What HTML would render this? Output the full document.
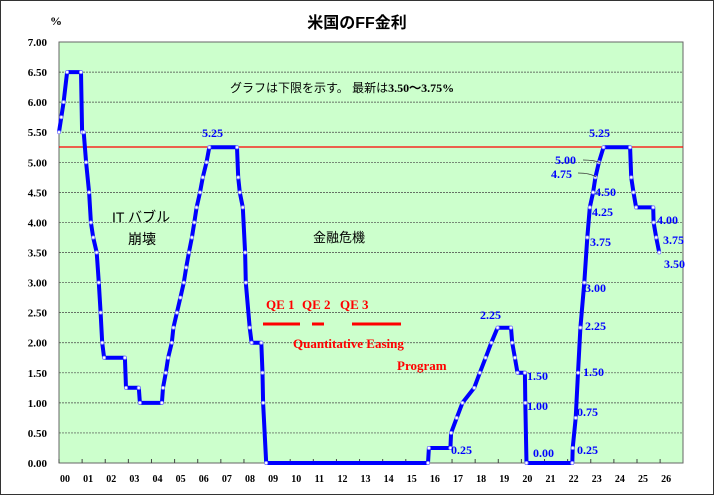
<!DOCTYPE html>
<html><head><meta charset="utf-8"><style>
body{margin:0;background:#fff}
svg{display:block}
text{font-family:"Liberation Serif","Noto Serif CJK SC",serif;font-weight:bold}
.j{font-family:"Liberation Sans","Noto Sans CJK JP",sans-serif;font-weight:normal}
</style></head><body>
<svg id="s" width="714" height="495" xmlns="http://www.w3.org/2000/svg">
<rect x="0.5" y="0.5" width="713" height="494" fill="#fff" stroke="#333"/>
<rect x="59" y="42" width="624" height="421" fill="#ccffcc" stroke="#666"/>
<g id="grid"></g>
<line x1="59" y1="147" x2="683" y2="147" stroke="#f00" stroke-width="1.2"/>
<path id="p" fill="none" stroke="#00f" stroke-width="4" stroke-linejoin="round"/>
<g id="m"></g>
<text x="357" y="28" text-anchor="middle" font-size="16" class="j" style="font-weight:bold">米国のFF金利</text>
<text x="50" y="25" font-size="12">%</text>
<text x="230" y="92" font-size="12" class="j">グラフは下限を示す。 最新は<tspan style="font-family:'Liberation Serif';font-weight:bold">3.50～3.75%</tspan></text>
<text x="112" y="222" font-size="14" class="j">IT バブル</text>
<text x="128" y="244" font-size="14" class="j">崩壊</text>
<text x="313" y="242" font-size="13" class="j">金融危機</text>
<g fill="#f00" font-size="13"><text x="266" y="309">QE 1</text><text x="302" y="309">QE 2</text><text x="340" y="309">QE 3</text>
<text x="293" y="348">Quantitative Easing</text><text x="397" y="370">Program</text></g>
<g stroke="#f00" stroke-width="3"><line x1="263" y1="324" x2="300" y2="324"/><line x1="312" y1="324" x2="324" y2="324"/><line x1="352" y1="324" x2="401" y2="324"/></g>
<g fill="#00f" font-size="12">
<text x="202" y="137">5.25</text><text x="589" y="137">5.25</text><text x="480" y="319">2.25</text>
<text x="527" y="380">1.50</text><text x="527" y="410">1.00</text><text x="533" y="457">0.00</text><text x="451" y="454">0.25</text>
<text x="577" y="454">0.25</text><text x="577" y="416">0.75</text><text x="583" y="376">1.50</text><text x="585" y="330">2.25</text>
<text x="585" y="292">3.00</text><text x="590" y="246">3.75</text><text x="592" y="216">4.25</text><text x="595" y="196">4.50</text>
<text x="555" y="164">5.00</text><text x="551" y="178">4.75</text>
<text x="657" y="224">4.00</text><text x="663" y="244">3.75</text><text x="664" y="268">3.50</text></g>
<g stroke="#333" stroke-width="0.8" fill="none"><path d="M583 160 Q595 160 601 163"/><path d="M578 173 Q590 173 596 177"/></g>
</svg>
<script>
var s=document.getElementById('s'),g=document.getElementById('grid'),ns='http://www.w3.org/2000/svg';
function el(t,a,p,tx){var e=document.createElementNS(ns,t);for(var k in a)e.setAttribute(k,a[k]);if(tx!=null)e.textContent=tx;(p||s).appendChild(e);return e}
function Y(v){return 463-v*60.14}function X(y){return 59+(y-2000)*23.12}
for(var i=0;i<=14;i++){var v=i*0.5,y=Y(v);if(i>0&&i<14)el('line',{x1:59,x2:683,y1:y,y2:y,stroke:'#444','stroke-dasharray':'2,1','stroke-width':0.7},g);
el('text',{x:47,y:y+4,'text-anchor':'end','font-size':11},null,v.toFixed(2))}
for(var k=0;k<=26;k++){el('text',{x:65+k*23.12,y:482,'text-anchor':'middle','font-size':10},null,(k<10?'0':'')+k);el('line',{x1:X(2000+k),x2:X(2000+k),y1:463,y2:459,stroke:'#444'},g)}
var d=[[2000,5.5],[2000.1,5.75],[2000.2,6],[2000.35,6.5],[2000.95,6.5],[2001.0,5.5],[2001.07,5.5],[2001.17,5],[2001.3,4.5],[2001.38,4],[2001.48,3.75],[2001.63,3.5],[2001.72,3],[2001.8,2.5],[2001.87,2],[2001.95,1.75],[2002.85,1.75],[2002.9,1.25],[2003.45,1.25],[2003.5,1],[2004.45,1],[2004.5,1.25],[2004.62,1.5],[2004.72,1.75],[2004.88,2],[2004.95,2.25],[2005.1,2.5],[2005.25,2.75],[2005.4,3],[2005.5,3.25],[2005.62,3.5],[2005.75,3.75],[2005.85,4],[2005.95,4.25],[2006.1,4.5],[2006.22,4.75],[2006.38,5],[2006.5,5.25],[2007.7,5.25],[2007.75,4.75],[2007.82,4.5],[2007.95,4.25],[2008.05,3.5],[2008.08,3],[2008.25,2.25],[2008.33,2],[2008.75,2],[2008.8,1.5],[2008.83,1],[2008.96,0],[2015.96,0],[2016.0,0.25],[2016.93,0.25],[2016.96,0.5],[2017.2,0.75],[2017.45,1],[2017.96,1.25],[2018.2,1.5],[2018.45,1.75],[2018.7,2],[2018.97,2.25],[2019.55,2.25],[2019.6,2],[2019.72,1.75],[2019.83,1.5],[2020.15,1.5],[2020.17,1],[2020.22,0],[2022.2,0],[2022.22,0.25],[2022.35,0.75],[2022.45,1.5],[2022.55,2.25],[2022.72,3],[2022.85,3.75],[2022.96,4.25],[2023.1,4.5],[2023.2,4.75],[2023.35,5],[2023.55,5.25],[2024.7,5.25],[2024.75,4.75],[2024.85,4.5],[2024.96,4.25],[2025.7,4.25],[2025.72,4],[2025.83,3.75],[2025.96,3.5]];
document.getElementById('p').setAttribute('d','M'+d.map(function(p){return X(p[0]).toFixed(1)+' '+Y(p[1]).toFixed(1)}).join(' L'));
var m=document.getElementById('m');d.forEach(function(p){el('circle',{cx:X(p[0]),cy:Y(p[1]),r:1.6,fill:'#fff',stroke:'#88f','stroke-width':0.8},m)});
</script>
</body></html>
